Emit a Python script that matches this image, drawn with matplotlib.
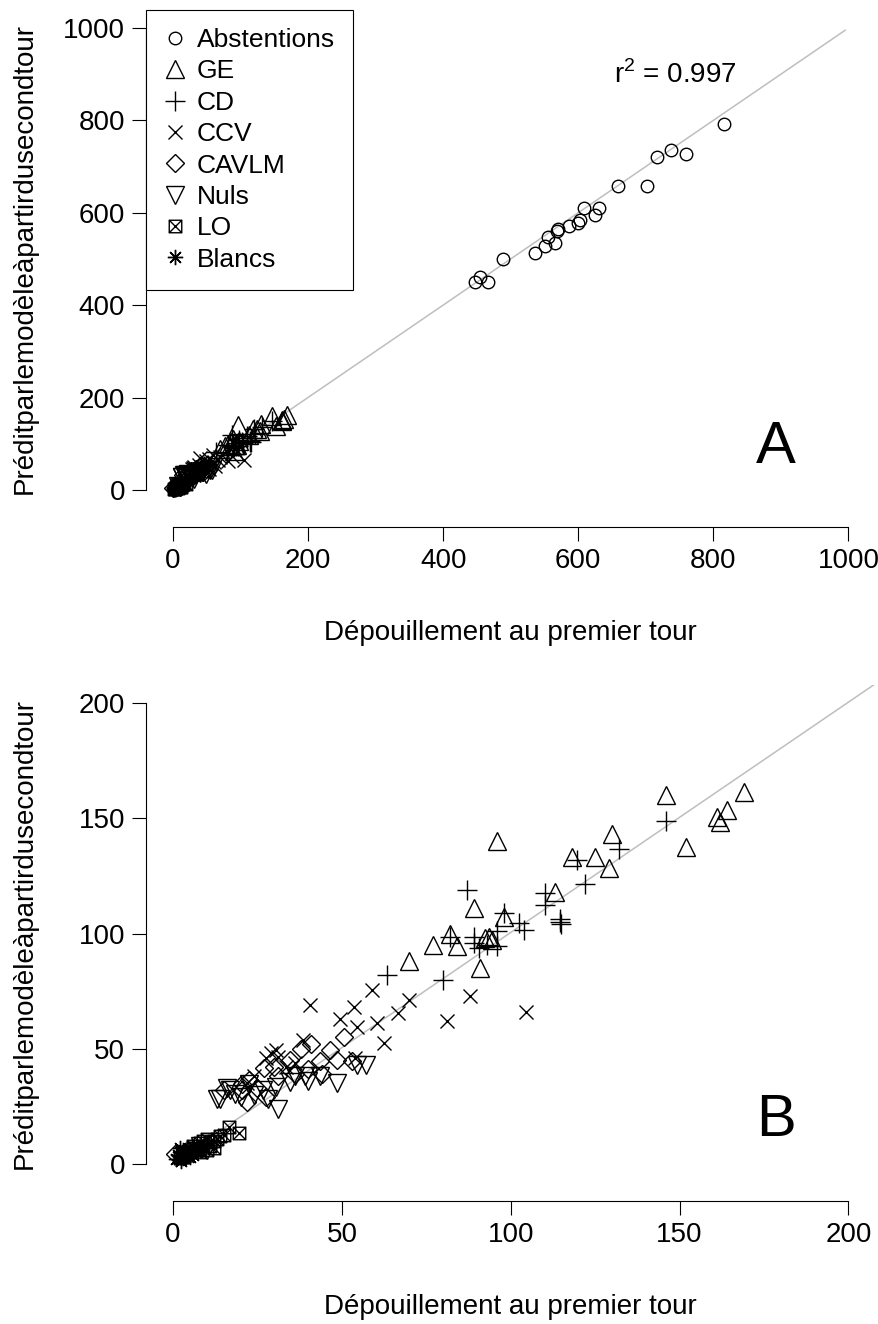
import numpy as np
import matplotlib
matplotlib.use("Agg")
import matplotlib.pyplot as plt
from matplotlib.path import Path

plt.rcParams["font.family"] = ["Liberation Sans", "DejaVu Sans"]
plt.rcParams["mathtext.fontset"] = "custom"
plt.rcParams["mathtext.rm"] = "Liberation Sans"

# ── DATA (first-round count vs model prediction) ──────────────────────────────
abst_x = [816, 737, 759, 716, 659, 702, 609, 630, 625, 602, 600, 586, 570, 568, 555, 566, 551, 536, 488, 454, 447, 467]
abst_y = [792, 736, 727, 721, 657, 659, 610, 610, 595, 584, 577, 572, 564, 561, 548, 535, 528, 514, 500, 462, 451, 450]

ge_x = [146, 169, 164, 161, 162, 152, 130, 118, 125, 129, 96, 89, 113, 98, 82, 77, 84, 92.5, 93.5, 94.5, 91, 70]
ge_y = [160, 161.5, 153.5, 150.5, 148.5, 137.5, 143, 133, 133, 128.5, 140, 111, 118, 107, 100, 95, 94.5, 98, 98.5, 97, 85, 88]

cd_x = [146, 132, 119.5, 122, 87, 110, 110, 114.5, 114.5, 98, 102.5, 104, 82, 89, 89, 96, 90.5, 63.5, 80, 96, 93, 115]
cd_y = [149, 136.5, 132, 121.5, 119, 117.5, 112.5, 106.5, 105, 109, 104.5, 101.5, 98.5, 98.5, 96, 94.5, 93.5, 82, 80, 101, 95, 104]

ccv_x = [104.5, 88, 70, 40.5, 59, 53.5, 49.5, 54.5, 66.5, 60.5, 62.5, 38.5, 30.5, 29, 31, 27.5, 33.5, 54, 81, 24, 22, 36]
ccv_y = [66, 73, 71, 69, 75.5, 68, 63, 59.5, 65.5, 61, 52.5, 54, 49.5, 48, 46.5, 46, 42, 46, 62, 38, 35, 44]

cav_x = [50.5, 41, 46.5, 38, 27, 30, 34.5, 43.5, 48.5, 53, 22.5, 20.5, 22, 27.5, 15, 20.5, 0.5, 36, 31, 25, 44, 40]
cav_y = [55, 52, 49.5, 50, 41.5, 42, 45, 44.5, 45, 44.5, 36.5, 34.5, 27, 29, 32, 32, 4.5, 39, 38, 33, 39, 41]

nuls_x = [54.5, 57, 48.5, 43.5, 39, 34.5, 30.5, 26.5, 14, 17, 16, 22.5, 18.5, 31, 28, 13, 36, 40, 24, 20, 8, 10]
nuls_y = [43, 43, 35, 38, 38, 35.5, 33.5, 32, 28, 32, 33, 34.5, 30.5, 24, 28, 28, 38, 36, 30, 29, 8, 6]

lo_x = [16.5, 19.5, 12, 10, 14, 8, 6, 9, 11, 13, 7, 5, 3, 4, 10, 12, 8, 15, 6, 9, 11, 2]
lo_y = [16, 13.5, 10, 11, 12, 9, 7, 8, 9.5, 11, 6, 5, 3, 4, 6, 7, 5, 12.5, 8, 10, 8, 2.5]

blancs_x = [1, 2, 3, 4, 5, 6, 2, 3, 4, 5, 7, 8, 1.5, 2.5, 3.5, 6, 7, 9, 4.5, 3, 5.5, 2]
blancs_y = [2, 3, 2.5, 4, 3, 5, 5, 4, 6, 6.5, 7, 6, 4, 1.5, 3, 4, 5, 8, 5, 6, 8, 7]

FIT = ([0, 995], [0.5, 995])
R2 = 0.997

# square with an x inside (R pch 7)
box_x = Path([(-1, -1), (1, -1), (1, 1), (-1, 1), (-1, -1), (-1, -1), (1, 1), (-1, 1), (1, -1)],
             [Path.MOVETO, Path.LINETO, Path.LINETO, Path.LINETO, Path.CLOSEPOLY,
              Path.MOVETO, Path.LINETO, Path.MOVETO, Path.LINETO])

SERIES = [
    ("Abstentions", abst_x, abst_y, "o", 9),
    ("GE", ge_x, ge_y, "^", 12.5),
    ("CD", cd_x, cd_y, "+", 14),
    ("CCV", ccv_x, ccv_y, "x", 10),
    ("CAVLM", cav_x, cav_y, "D", 9.5),
    ("Nuls", nuls_x, nuls_y, "v", 12.5),
    ("LO", lo_x, lo_y, box_x, 9),
    ("Blancs", blancs_x, blancs_y, (8, 2, 0), 11),
]

W, H = 879, 1324
FS = 20


def px_axes(fig, left, top, right, bottom):
    return fig.add_axes([left / W, 1 - bottom / H, (right - left) / W, (bottom - top) / H])


def draw(ax, lim, ticks, legend=False):
    ax.plot(*FIT, color="#BEBEBE", lw=1.1, zorder=1)
    for name, xs, ys, m, ms in SERIES:
        ax.plot(xs, ys, ls="none", marker=m, ms=ms, mfc="none", mec="black",
                mew=1.0, label=name, zorder=2)
    ax.set_xlim(-0.04 * lim, 1.04 * lim)
    ax.set_ylim(-0.04 * lim, 1.04 * lim)
    ax.set_xticks(ticks)
    ax.set_yticks(ticks)
    for s in ["top", "right"]:
        ax.spines[s].set_visible(False)
    ax.spines["left"].set_bounds(0, lim)
    ax.spines["bottom"].set_bounds(0, lim)
    ax.spines["bottom"].set_position(("outward", 13.5))
    ax.tick_params(length=10, width=0.8, labelsize=FS, pad=5)
    ax.set_xlabel("Dépouillement au premier tour", fontsize=FS, labelpad=33)
    ax.set_ylabel("Préditparlemodèleàpartirdusecondtour", fontsize=FS)
    ax.yaxis.set_label_coords(-0.149, 0.5)
    if legend:
        leg = ax.legend(loc="upper left", bbox_to_anchor=(0, 1), borderaxespad=0,
                        fontsize=19, fancybox=False, edgecolor="black",
                        framealpha=1, handlelength=0.8, handletextpad=0.42,
                        labelspacing=0.28, borderpad=0.7)
        leg.get_frame().set_linewidth(0.8)


fig = plt.figure(figsize=(W / 100, H / 100), dpi=100)

axA = px_axes(fig, 146, 9.5, 875.5, 508.5)
draw(axA, 1000, [0, 200, 400, 600, 800, 1000], legend=True)
axA.text(744, 898, "r$^\\mathregular{2}$ = 0.997", fontsize=FS, ha="center", va="center")
axA.text(892, 93, "A", fontsize=43, ha="center", va="center")

axB = px_axes(fig, 146, 684.6, 875.5, 1182.4)
draw(axB, 200, [0, 50, 100, 150, 200])
axB.text(178.5, 19, "B", fontsize=43, ha="center", va="center")

fig.savefig("out.png", dpi=100)
